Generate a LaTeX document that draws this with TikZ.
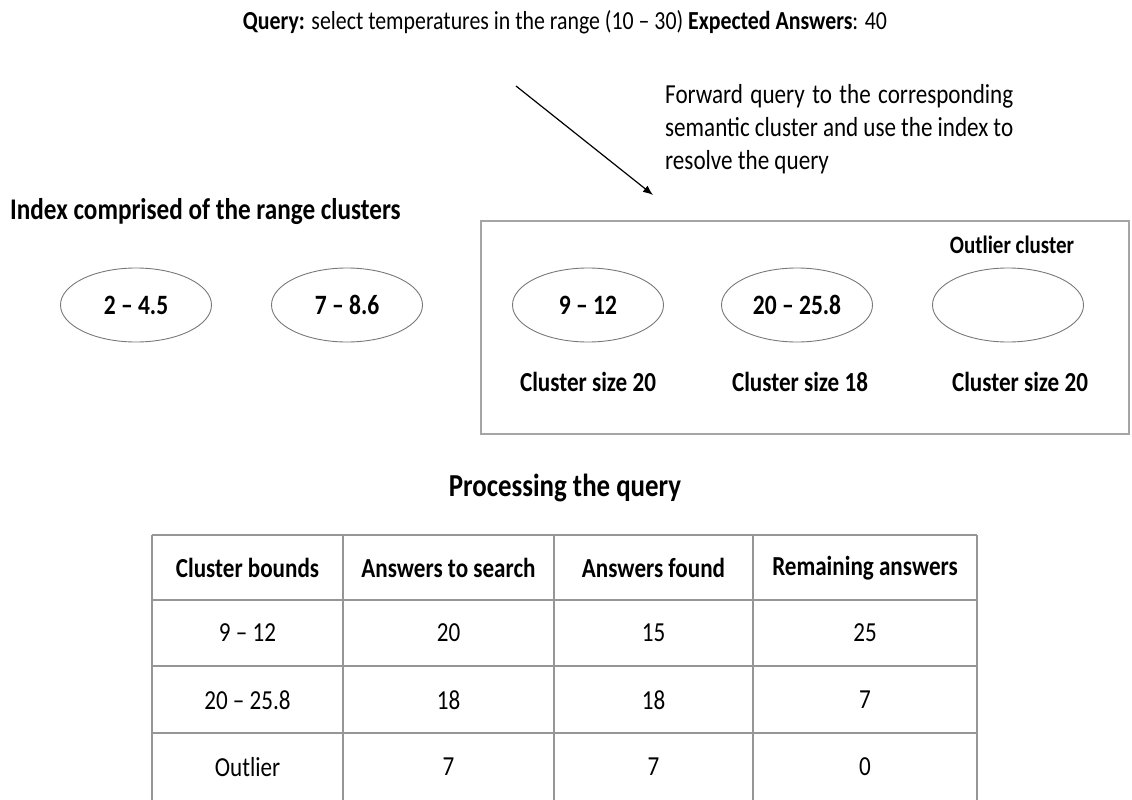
\documentclass[tikz,border=0pt]{standalone}
\usepackage{fontspec}
\setmainfont{Carlito}[FakeStretch=0.84]
\usetikzlibrary{arrows.meta,shapes.geometric}

\definecolor{rimgray}{RGB}{120,120,120}
\definecolor{boxgray}{RGB}{165,165,165}
\definecolor{gridgray}{RGB}{150,150,150}

\tikzset{
  txt/.style={inner sep=0pt, font=\fontsize{27.5}{33}\selectfont},
  btxt/.style={inner sep=0pt, font=\fontsize{27.5}{33}\selectfont\bfseries},
  head/.style={inner sep=0pt, font=\fontsize{30}{36}\selectfont\bfseries},
  cluster/.style={ellipse, draw=rimgray, line width=0.9pt, minimum width=151pt,
    minimum height=74pt, inner sep=0pt, font=\fontsize{28}{34}\selectfont\bfseries},
  gridline/.style={draw=gridgray, line width=1.2pt},
  pointer/.style={draw=black, line width=1.2pt, -{Latex[length=10pt,width=8pt]}}
}

\begin{document}
\begin{tikzpicture}[x=1pt,y=-1pt]
\useasboundingbox (0,0) rectangle (1132,800);

% query line
\node[txt, font=\fontsize{26}{31}\selectfont] (query) at (565,22)
  {\textbf{Query:} select temperatures in the range (10 -- 30) \textbf{Expected Answers}: 40};

% explanation of the forwarding step
\node[txt, anchor=north west, text width=348pt, align=justify] (note) at (665,84)
  {Forward query to the corresponding\linebreak semantic cluster and use the index to\linebreak resolve the query};

\coordinate (arrowstart) at (516,86);
\coordinate (arrowend) at (653,195);
\draw[pointer] (arrowstart) -- (arrowend);

% index of range clusters
\node[head, anchor=west] (indexlabel) at (10,212) {Index comprised of the range clusters};

\node[cluster] (c1) at (136,305) {2 -- 4.5};
\node[cluster] (c2) at (347,305) {7 -- 8.6};

% semantic cluster group
\node[draw=boxgray, line width=1.5pt, minimum width=648pt, minimum height=213pt,
  inner sep=0pt] (group) at (805,327.5) {};

\node[cluster] (c3) at (588,305) {9 -- 12};
\node[cluster] (c4) at (797,305) {20 -- 25.8};
\node[cluster] (c5) at (1008,305) {};

\node[btxt, font=\fontsize{25}{30}\selectfont\bfseries] (outlierlabel) at (1012,245) {Outlier cluster};

\node[btxt] (s3) at (588,382) {Cluster size 20};
\node[btxt] (s4) at (800,382) {Cluster size 18};
\node[btxt] (s5) at (1020,382) {Cluster size 20};

% processing table
\node[head, font=\fontsize{32}{38}\selectfont\bfseries] (proclabel) at (565,488) {Processing the query};

\draw[gridline] (152,535) -- (977,535);
\draw[gridline] (152,600) -- (977,600);
\draw[gridline] (152,666) -- (977,666);
\draw[gridline] (152,733) -- (977,733);
\foreach \xx in {152,343,554,753,977}
  \draw[gridline] (\xx,535) -- (\xx,800);

\node[btxt] (h1) at (247.5,568) {Cluster bounds};
\node[btxt] (h2) at (448.5,568) {Answers to search};
\node[btxt] (h3) at (653.5,568) {Answers found};
\node[btxt] (h4) at (865,568) {Remaining answers};

\node[txt] (r1a) at (247.5,633) {9 -- 12};
\node[txt] (r1b) at (448.5,633) {20};
\node[txt] (r1c) at (653.5,633) {15};
\node[txt] (r1d) at (865,633) {25};

\node[txt] (r2a) at (247.5,700) {20 -- 25.8};
\node[txt] (r2b) at (448.5,700) {18};
\node[txt] (r2c) at (653.5,700) {18};
\node[txt] (r2d) at (865,700) {7};

\node[txt] (r3a) at (247.5,767) {Outlier};
\node[txt] (r3b) at (448.5,767) {7};
\node[txt] (r3c) at (653.5,767) {7};
\node[txt] (r3d) at (865,767) {0};
\end{tikzpicture}
\end{document}
